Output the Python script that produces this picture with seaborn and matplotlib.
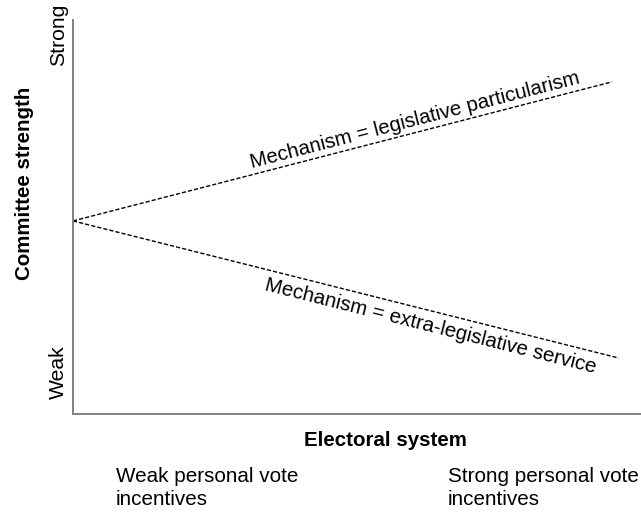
import matplotlib
matplotlib.use("Agg")
import matplotlib.pyplot as plt
import seaborn as sns
import pandas as pd

# Data (conceptual scale 0-10 on both axes)
mechanisms = ["legislative particularism", "extra-legislative service"]
x_upper = [0.0, 9.49]
y_upper = [4.9, 8.43]
x_lower = [0.0, 9.61]
y_lower = [4.9, 1.42]
ytick_pos = [1.07, 9.62]
ytick_labels = ["Weak", "Strong"]
bottom_labels = ["Weak personal vote\nincentives", "Strong personal vote\nincentives"]

df = pd.DataFrame({
    "mechanism": [mechanisms[0]] * 2 + [mechanisms[1]] * 2,
    "x": x_upper + x_lower,
    "y": y_upper + y_lower,
})

sns.set_theme(style="white")
plt.rcParams["font.family"] = ["Liberation Sans", "DejaVu Sans"]
plt.rcParams["text.color"] = "black"
plt.rcParams["ytick.color"] = "black"
plt.rcParams["ytick.labelcolor"] = "black"

fig = plt.figure(figsize=(6.41, 5.16), dpi=100)
ax = fig.add_axes([73 / 641, (516 - 414) / 516, 1 - 73 / 641, (414 - 20) / 516])

sns.lineplot(data=df, x="x", y="y", units="mechanism", estimator=None,
             color="black", linewidth=1.0, ax=ax, legend=False)
for line in ax.lines:
    line.set_linestyle((0, (3, 1.5)))

ax.set_xlim(0, 10)
ax.set_ylim(0, 10)
ax.set_xticks([])
ax.set_yticks(ytick_pos)
ax.set_yticklabels(ytick_labels, rotation=90, va="center", fontsize=15.2, color="black")
ax.tick_params(axis="y", length=0, pad=3.5)
for s in ["top", "right"]:
    ax.spines[s].set_visible(False)
for s in ["left", "bottom"]:
    ax.spines[s].set_color("#808080")
    ax.spines[s].set_linewidth(1.4)

ax.set_xlabel("")
ax.set_ylabel("")

ax.text(6.02, 7.46, "Mechanism = " + mechanisms[0], rotation=14.5,
        rotation_mode="anchor", ha="center", va="center", fontsize=14.8, color="black")
ax.text(6.29, 2.23, "Mechanism = " + mechanisms[1], rotation=-14.1,
        rotation_mode="anchor", ha="center", va="center", fontsize=14.8, color="black")

fig.text(385 / 641, 1 - 441 / 516, "Electoral system", ha="center", va="center",
         fontsize=14.8, fontweight="bold", color="black")
fig.text(25 / 641, 1 - 183 / 516, "Committee strength", ha="center", va="center",
         rotation=90, fontsize=14.8, fontweight="bold", color="black")
fig.text(116 / 641, 1 - 467 / 516, bottom_labels[0], ha="left", va="top",
         fontsize=14.9, linespacing=1.25, color="black")
fig.text(448 / 641, 1 - 467 / 516, bottom_labels[1], ha="left", va="top",
         fontsize=14.9, linespacing=1.25, color="black")

fig.savefig("out.png", dpi=100)
